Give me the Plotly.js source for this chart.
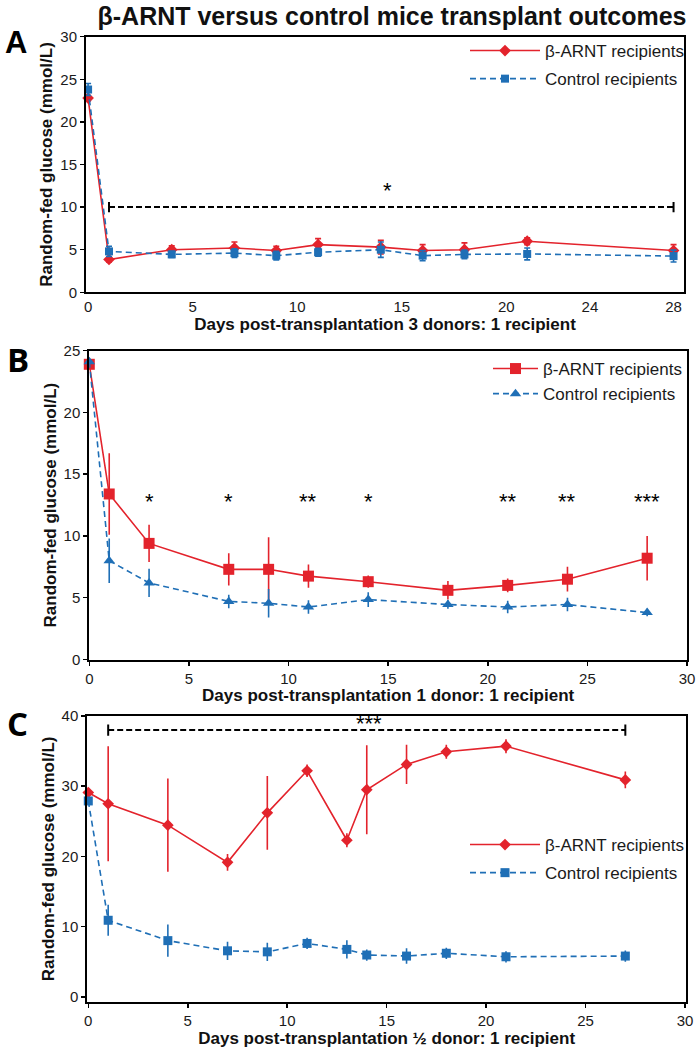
<!DOCTYPE html>
<html>
<head>
<meta charset="utf-8">
<script src="https://cdn.plot.ly/plotly-3.0.1.min.js"></script>
<style>html,body{margin:0;padding:0;background:#fff;}#chart{width:700px;height:1048px;}</style>
</head>
<body>
<div id="chart"></div>
<script>
// ---------- Data ----------
const seriesNames = ['β-ARNT recipients', 'Control recipients'];

// Panel A: 3 donors : 1 recipient
const aDays = [0, 1, 4, 7, 9, 11, 14, 16, 18, 21, 28];
const aArnt = [22.8, 3.85, 5.0, 5.2, 4.9, 5.6, 5.3, 4.9, 5.0, 6.0, 4.9];
const aArntErr = [0.3, 0.3, 0.45, 0.7, 0.5, 0.7, 0.8, 0.7, 0.8, 0.4, 0.7];
const aCtrl = [23.8, 4.8, 4.45, 4.6, 4.3, 4.7, 5.0, 4.3, 4.45, 4.5, 4.25];
const aCtrlErr = [0.7, 0.6, 0.35, 0.5, 0.5, 0.45, 0.9, 0.6, 0.5, 0.7, 0.7];
const aTicks = [0, 5, 10, 15, 20, 24, 28];
const aSigDays = [1, 28];
const aSigLevel = 10;
const aStars = [{day: 14.3, level: 11.9, text: '*'}];

// Panel B: 1 donor : 1 recipient
const bDays = [0, 1, 3, 7, 9, 11, 14, 18, 21, 24, 28];
const bArnt = [23.9, 13.4, 9.4, 7.3, 7.3, 6.75, 6.3, 5.6, 6.0, 6.5, 8.2];
const bArntErr = [0, 3.3, 1.5, 1.3, 2.6, 0.95, 0.5, 0.75, 0.55, 1.0, 1.8];
const bCtrl = [24.1, 8.0, 6.2, 4.7, 4.55, 4.25, 4.85, 4.45, 4.25, 4.45, 3.8];
const bCtrlErr = [0, 1.8, 1.15, 0.55, 1.15, 0.55, 0.6, 0.35, 0.5, 0.55, 0.3];
const bTicks = [0, 5, 10, 15, 20, 25, 30];
const bStarDays = [3, 7, 11, 14, 21, 24, 28];
const bStarText = ['*', '*', '**', '*', '**', '**', '***'];
const bStarLevel = 12.8;

// Panel C: 1/2 donor : 1 recipient
const cDays = [0, 1, 4, 7, 9, 11, 13, 14, 16, 18, 21, 27];
const cArnt = [29.1, 27.5, 24.45, 19.15, 26.2, 32.2, 22.3, 29.5, 33.1, 34.9, 35.7, 30.9];
const cArntErr = [0.3, 8.2, 6.65, 1.2, 5.25, 0.9, 1.0, 6.35, 2.8, 1.0, 1.0, 1.2];
const cCtrl = [27.9, 10.9, 8.0, 6.55, 6.4, 7.6, 6.75, 5.95, 5.8, 6.2, 5.7, 5.8];
const cCtrlErr = [0, 2.2, 2.3, 1.3, 1.3, 0.8, 1.3, 0.8, 1.1, 0.8, 0.8, 0.8];
const cTicks = [0, 10, 20, 30, 40];
const cXTicks = [0, 5, 10, 15, 20, 25, 30];
const cSigDays = [1, 27];
const cSigLevel = 38;
const cStars = [{day: 14.1, level: 38.9, text: '***'}];

// ---------- Styling ----------
const RED = '#e3232c';
const BLUE = '#1f6fb6';
const FONT = 'Liberation Sans, Arial, sans-serif';
const W = 700, H = 1048;
const px = v => v / W;
const py = v => 1 - v / H;

function series(xs, ys, errs, name, color, symbol, size, dash, xa, ya, legend, group, capw) {
  return {
    x: xs, y: ys, name: name, type: 'scatter', mode: 'lines+markers',
    xaxis: xa, yaxis: ya, legend: legend, legendgroup: group, cliponaxis: false,
    line: {color: color, width: 1.6, dash: dash},
    marker: {color: color, symbol: symbol, size: size},
    error_y: {type: 'data', array: errs, visible: true, color: color, thickness: 1.6, width: capw}
  };
}

const traces = [
  series(aDays, aArnt, aArntErr, seriesNames[0], RED, 'diamond', 9, 'solid', 'x', 'y', 'legend', 'a1', 3),
  series(aDays, aCtrl, aCtrlErr, seriesNames[1], BLUE, 'square', 8, '6px,4px', 'x', 'y', 'legend', 'a2', 3),
  series(bDays, bArnt, bArntErr, seriesNames[0], RED, 'square', 11, 'solid', 'x2', 'y2', 'legend2', 'b1', 0),
  series(bDays, bCtrl, bCtrlErr, seriesNames[1], BLUE, 'triangle-up', 10, '6px,4px', 'x2', 'y2', 'legend2', 'b2', 0),
  series(cDays, cArnt, cArntErr, seriesNames[0], RED, 'diamond', 9, 'solid', 'x3', 'y3', 'legend3', 'c1', 0),
  series(cDays, cCtrl, cCtrlErr, seriesNames[1], BLUE, 'square', 9, '6px,4px', 'x3', 'y3', 'legend3', 'c2', 0)
];

const tickFont = {family: FONT, size: 15, color: '#1a1a1a'};
const titleFont = {family: FONT, size: 17, color: '#111', weight: 'bold'};
function xax(domain, range, tickvals, title, anchor, showTicks) {
  return {domain: domain, range: range, tickmode: 'array', tickvals: tickvals, anchor: anchor,
    showline: true, mirror: true, linecolor: '#000', linewidth: 2, ticks: showTicks ? 'outside' : '',
    ticklen: 4, tickwidth: 1.5, tickcolor: '#000', showgrid: false, zeroline: false, tickfont: tickFont,
    title: {text: title, font: titleFont, standoff: 1}};
}
function yax(domain, range, tickvals, anchor) {
  return {domain: domain, range: range, tickmode: 'array', tickvals: tickvals, anchor: anchor,
    showline: true, mirror: true, linecolor: '#000', linewidth: 2, ticks: 'outside', ticklen: 4,
    tickwidth: 1.5, tickcolor: '#000', showgrid: false, zeroline: false, tickfont: tickFont,
    title: {text: 'Random-fed glucose (mmol/L)', font: titleFont, standoff: 3}};
}

const legendFont = {family: FONT, size: 17, color: '#1a1a1a'};
function legendAt(left, top, itemwidth, gap) {
  return {x: px(left), xanchor: 'left', y: py(top), yanchor: 'top', font: legendFont,
    bgcolor: 'rgba(0,0,0,0)', itemwidth: itemwidth, tracegroupgap: gap, traceorder: 'grouped'};
}

const shapes = [];
function sigBar(days, level, xr, yr, cap) {
  shapes.push({type: 'line', xref: xr, yref: yr, x0: days[0], x1: days[1], y0: level, y1: level,
    line: {color: '#000', width: 2, dash: '6px,3px'}});
  days.forEach(d => shapes.push({type: 'line', xref: xr, yref: yr, x0: d, x1: d,
    y0: level - cap, y1: level + cap, line: {color: '#000', width: 2}}));
}
sigBar(aSigDays, aSigLevel, 'x', 'y', 0.6);
sigBar(cSigDays, cSigLevel, 'x3', 'y3', 0.8);

const starFont = {family: FONT, size: 22, color: '#000'};
const annotations = [];
aStars.forEach(s => annotations.push({x: s.day, y: s.level, xref: 'x', yref: 'y', text: s.text, showarrow: false, font: starFont}));
bStarDays.forEach((d, i) => annotations.push({x: d, y: bStarLevel, xref: 'x2', yref: 'y2', text: bStarText[i], showarrow: false, font: starFont}));
cStars.forEach(s => annotations.push({x: s.day, y: s.level, xref: 'x3', yref: 'y3', text: s.text, showarrow: false, font: starFont}));
// Panel letters
[['A', 16, 42, FONT, 31], ['B', 18, 359, 'Open Sans, sans-serif', 33], ['C', 17, 723, 'Open Sans, sans-serif', 33]].forEach(p =>
  annotations.push({x: px(p[1]), y: py(p[2]), xref: 'paper', yref: 'paper', text: '<b>' + p[0] + '</b>',
    showarrow: false, xanchor: 'center', yanchor: 'middle', font: {family: p[3], size: p[4], color: '#000'}}));

const layout = {
  width: W, height: H, margin: {l: 0, r: 0, t: 0, b: 0},
  paper_bgcolor: '#fff', plot_bgcolor: '#fff', showlegend: true,
  title: {text: '<b>β-ARNT versus control mice transplant outcomes</b>', x: px(392), xanchor: 'center',
    y: py(16), yanchor: 'middle', font: {family: FONT, size: 25, color: '#111'}},
  xaxis: xax([px(86), px(684)], [-0.1, 28.5], aTicks, 'Days post-transplantation 3 donors: 1 recipient', 'y', false),
  yaxis: yax([py(292.3), py(36.7)], [0, 30], [0, 5, 10, 15, 20, 25, 30], 'x'),
  xaxis2: xax([px(89.3), px(687)], [0, 30], bTicks, 'Days post-transplantation 1 donor: 1 recipient', 'y2', true),
  yaxis2: yax([py(659.5), py(350.7)], [0, 25], [0, 5, 10, 15, 20, 25], 'x2'),
  xaxis3: xax([px(87.3), px(686)], [-0.05, 30.05], cXTicks, 'Days post-transplantation ½ donor: 1 recipient', 'y3', true),
  yaxis3: yax([py(1001.7), py(716)], [-0.7, 40], cTicks, 'x3'),
  legend: legendAt(465, 33, 70, 3),
  legend2: legendAt(488, 351, 45, 0),
  legend3: legendAt(465, 827, 70, 3),
  shapes: shapes,
  annotations: annotations
};

Plotly.newPlot('chart', traces, layout, {displayModeBar: false, staticPlot: true});
</script>
</body>
</html>
